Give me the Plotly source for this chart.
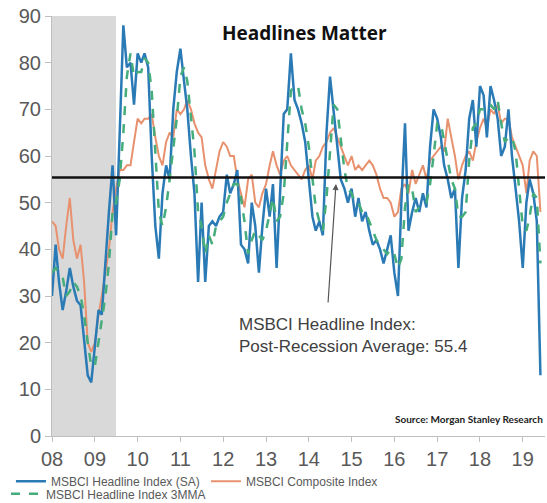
import plotly.graph_objects as go
import pandas as pd

dates = pd.date_range("2008-01-01", periods=138, freq="MS")

headline_sa = [30, 41, 33, 27, 31, 36, 32, 29, 28, 20, 13, 11.5, 20, 27, 26, 38, 48, 58, 43, 65,
               88, 79, 80, 71, 82, 80, 82, 79, 60, 45, 38, 52, 58, 55, 70, 78, 83, 76, 70, 60,
               52, 33, 50, 33, 45, 46, 45, 47, 48, 56, 52, 54, 57, 41, 40, 37, 50, 45, 35, 45,
               53, 47, 54, 36, 52, 69, 70, 82, 72, 70, 67, 63, 55, 47, 44, 46, 43, 65, 77, 70,
               63, 55, 53, 50, 53, 47, 51, 46, 48, 44, 41, 42, 40, 37, 40, 43, 35, 30, 50, 67,
               44, 48, 51, 48, 52, 49, 62, 70, 68, 64, 58, 55, 51, 53, 36, 51, 57, 68, 72, 62,
               75, 73, 64, 75, 72, 68, 60, 62, 70, 60, 53, 46, 36, 50, 55, 52, 46, 13]

composite = [46, 45, 40, 38, 45, 51, 42, 38, 41, 33, 20, 18, 20, 26, 30, 35, 40, 48, 53, 57,
             57, 58, 58, 63, 68, 67, 68, 68, 69, 64, 60, 58, 63, 65, 64, 70, 69, 70, 72, 70,
             67, 65, 64, 58, 55, 53, 57, 61, 63, 62, 60, 60, 55, 52, 49, 55, 56, 50, 49, 52,
             54, 58, 61, 58, 56, 59, 60, 58, 57, 56, 55, 57, 58, 55, 59, 60, 62, 63, 65, 66,
             64, 62, 60, 58, 60, 57, 58, 57, 58, 59, 58, 56, 53, 51, 51, 50, 47, 48, 53, 54,
             52, 57, 54, 56, 58, 55, 59, 60, 61, 62, 61, 68, 64, 60, 55, 58, 60, 61, 59, 63,
             66, 68, 66, 70, 69, 71, 67, 68, 68, 64, 62, 60, 58, 52, 59, 61, 60, 48]

headline_3mma = [35, 36, 35, 34, 30, 31, 33, 32, 30, 26, 20, 15, 15, 20, 24, 30, 37, 48, 50, 55,
                 65, 77, 82, 77, 78, 78, 81, 80, 74, 61, 48, 45, 49, 55, 61, 68, 77, 79, 76, 69,
                 61, 48, 45, 39, 43, 41, 45, 46, 47, 50, 52, 54, 54, 51, 46, 39, 42, 44, 43, 42,
                 44, 48, 51, 46, 47, 52, 64, 74, 75, 75, 70, 67, 62, 55, 49, 46, 44, 51, 62, 71,
                 70, 63, 57, 53, 52, 50, 50, 48, 48, 46, 44, 42, 41, 40, 39, 40, 39, 36, 38, 49,
                 54, 53, 48, 49, 50, 50, 54, 60, 67, 67, 63, 59, 55, 53, 47, 47, 48, 59, 66, 67,
                 70, 70, 71, 71, 70, 72, 67, 63, 64, 64, 61, 53, 45, 44, 47, 52, 51, 37]

year_ticks = [f"{y}-01-01" for y in range(2008, 2020)]
year_labels = ["08", "09", "10", "11", "12", "13", "14", "15", "16", "17", "18", "19"]
y_ticks = [0, 10, 20, 30, 40, 50, 60, 70, 80, 90]
post_recession_avg = 55.4

BLUE = "#2A7AB6"
ORANGE = "#E8916E"
GREEN = "#45AD7C"
GREY_TXT = "#595959"
LEG_FONT = dict(family="Liberation Sans, Arial, sans-serif", size=12, color=GREY_TXT)

fig = go.Figure()
fig.add_trace(go.Scatter(x=dates, y=composite, mode="lines", name="MSBCI Composite Index",
                         line=dict(color=ORANGE, width=2), legendrank=2, legend="legend"))
fig.add_trace(go.Scatter(x=dates, y=headline_sa, mode="lines", name="MSBCI Headline Index (SA)",
                         line=dict(color=BLUE, width=2.5), legendrank=1, legend="legend"))
fig.add_trace(go.Scatter(x=dates, y=headline_3mma, mode="lines", name="MSBCI Headline Index 3MMA",
                         line=dict(color=GREEN, width=2.5, dash="dash"), legendrank=3, legend="legend2"))

fig.add_shape(type="rect", xref="x", yref="y", x0="2008-01-01", x1="2009-06-30", y0=0, y1=90,
              fillcolor="#D9D9D9", line=dict(width=0), layer="below")
fig.add_shape(type="line", xref="paper", yref="y", x0=0, x1=1, y0=post_recession_avg, y1=post_recession_avg,
              line=dict(color="#111111", width=2.5), layer="above")

fig.add_annotation(text="<b>Headlines Matter</b>", xref="paper", yref="paper", x=0.512, y=0.96,
                   xanchor="center", yanchor="middle", showarrow=False,
                   font=dict(family="Open Sans, Lato, sans-serif", size=19, color="#111111"))
fig.add_annotation(text="MSBCI Headline Index:<br>Post-Recession Average: 55.4", xref="paper", yref="y",
                   x=0.375, y=21.5, xanchor="left", yanchor="middle", align="left", showarrow=False,
                   font=dict(family="Liberation Sans, Arial, sans-serif", size=17, color="#404040"))
fig.add_annotation(text="", xref="paper", yref="y", x=0.576, y=54.0, ax=-8, ay=120,
                   showarrow=True, arrowhead=2, arrowsize=1, arrowwidth=1.2, arrowcolor="#555555", standoff=0)
fig.add_annotation(text="<b>Source: Morgan Stanley Research</b>", xref="paper", yref="y", x=1.0, y=3.6,
                   xanchor="right", yanchor="middle", showarrow=False,
                   font=dict(family="Lato, sans-serif", size=10, color="#222222"))

fig.update_layout(
    width=547, height=503,
    margin=dict(l=52, r=2, t=16, b=67, autoexpand=False),
    paper_bgcolor="white", plot_bgcolor="white",
    showlegend=True,
    legend=dict(orientation="h", xref="container", yref="container", x=0.02, y=0.072,
                xanchor="left", yanchor="top",
                entrywidth=150, entrywidthmode="pixels", itemwidth=30,
                font=LEG_FONT, bgcolor="rgba(0,0,0,0)"),
    legend2=dict(orientation="h", xref="container", yref="container", x=0.011, y=0.047,
                 xanchor="left", yanchor="top", itemwidth=30,
                 font=LEG_FONT, bgcolor="rgba(0,0,0,0)"),
    xaxis=dict(range=["2008-01-01", "2019-07-10"], tickvals=year_ticks, ticktext=year_labels,
               showgrid=False, zeroline=False, showline=True, linecolor="#BFBFBF", linewidth=1,
               ticks="outside", ticklen=5, tickcolor="#BFBFBF", automargin=False,
               tickfont=dict(family="Liberation Sans, Arial, sans-serif", size=20, color=GREY_TXT)),
    yaxis=dict(range=[0, 90], tickvals=y_ticks, showgrid=False, zeroline=False, showline=True,
               linecolor="#BFBFBF", linewidth=1, ticks="outside", ticklen=6, tickcolor="#BFBFBF",
               automargin=False,
               tickfont=dict(family="Liberation Sans, Arial, sans-serif", size=20, color=GREY_TXT)),
)

fig.write_html("out.html")
